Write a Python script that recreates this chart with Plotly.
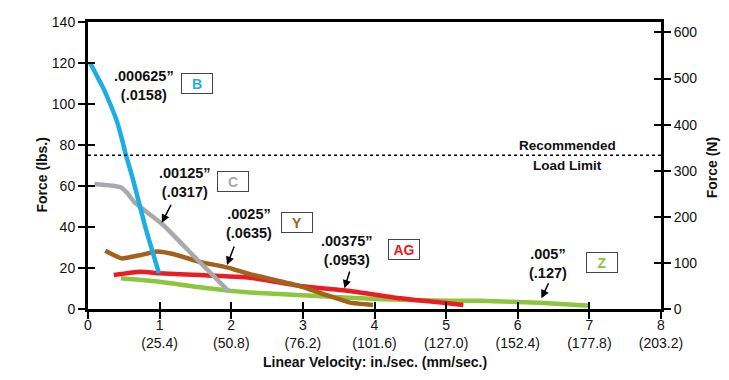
import plotly.graph_objects as go

# ---------------- data ----------------
b_x = [0.03, 0.12, 0.21, 0.31, 0.40, 0.48, 0.53, 0.63, 0.80, 0.99]
b_y = [120, 114, 108, 100, 92, 82, 75, 63, 40, 17.5]

c_x = [0.09, 0.45, 0.55, 0.65, 1.05, 1.5, 1.97]
c_y = [61, 59.5, 56.5, 52, 41, 25, 8.5]

y_x = [0.24, 0.47, 0.73, 0.96, 1.19, 1.56, 1.94, 2.26, 2.96, 3.33, 3.66, 3.98]
y_y = [28.4, 24.7, 26.3, 28, 26.8, 23, 20.3, 17, 11.2, 6.8, 3.1, 2]

ag_x = [0.36, 0.73, 1.0, 1.56, 2.26, 2.96, 3.66, 4.36, 5.24]
ag_y = [16.6, 18.2, 17.4, 16.6, 15.3, 11.2, 8.8, 5.2, 2]

z_x = [0.46, 1.0, 1.56, 1.98, 2.26, 3.19, 4.12, 5.06, 5.47, 6.31, 7.01]
z_y = [15, 13.3, 10.6, 8.9, 8.1, 6.3, 4.7, 4, 4, 3.1, 1.6]

x_ticks = [0, 1, 2, 3, 4, 5, 6, 7, 8]
x_ticklabels_in = ["0", "1", "2", "3", "4", "5", "6", "7", "8"]
x_ticklabels_mm = ["", "(25.4)", "(50.8)", "(76.2)", "(101.6)", "(127.0)", "(152.4)", "(177.8)", "(203.2)"]
lbs_ticks = [0, 20, 40, 60, 80, 100, 120, 140]
n_ticks = [0, 100, 200, 300, 400, 500, 600]
LBS_MAX = 140
N_PER_LB = 4.448
LOAD_LIMIT = 75

series = [
    # name, x, y, color, size label, label pos, box pos, arrow (tail, tip)
    ("Z", z_x, z_y, "#8CC63F", ".005”<br>(.127)", (6.42, 22), (7.17, 22.9), ((6.44, 13.3), (6.33, 5.2))),
    ("AG", ag_x, ag_y, "#EC1C24", ".00375”<br>(.0953)", (3.62, 28.3), (4.41, 28.8), ((3.66, 19), (3.58, 10.1))),
    ("Y", y_x, y_y, "#A3621C", ".0025”<br>(.0635)", (2.25, 41.7), (2.92, 42.2), ((2.05, 31.2), (1.94, 21.5))),
    ("C", c_x, c_y, "#A7A9AC", ".00125”<br>(.0317)", (1.35, 61.7), (2.03, 62.4), ((1.17, 51.6), (1.03, 42.1))),
    ("B", b_x, b_y, "#1AAEE5", ".000625”<br>(.0158)", (0.78, 108.8), (1.52, 110.2), None),
]

FONT = "Liberation Sans, Arial, sans-serif"

fig = go.Figure()
annotations = []
for name, xs, ys, col, lab, lpos, bpos, arr in series:
    fig.add_trace(go.Scatter(x=xs, y=ys, mode="lines", name=name,
                             line=dict(color=col, width=4.5, shape="spline", smoothing=0.4),
                             showlegend=False, hoverinfo="skip"))
    annotations.append(dict(x=lpos[0], y=lpos[1], xref="x", yref="y", text="<b>%s</b>" % lab,
                            showarrow=False, font=dict(family=FONT, size=14.5, color="#111"),
                            align="center"))
    annotations.append(dict(x=bpos[0], y=bpos[1], xref="x", yref="y", text="<b>%s</b>" % name,
                            showarrow=False, font=dict(family=FONT, size=14, color=col),
                            bordercolor="#444", borderwidth=1, bgcolor="white",
                            width=28, height=17, align="center", valign="middle"))
    if arr is not None:
        (tx, ty), (hx, hy) = arr
        annotations.append(dict(x=hx, y=hy, ax=tx, ay=ty, xref="x", yref="y", axref="x", ayref="y",
                                text="", showarrow=True, arrowhead=2, arrowsize=1.1,
                                arrowwidth=1.5, arrowcolor="black"))

annotations.append(dict(x=6.7, y=79.8, xref="x", yref="y", text="<b>Recommended</b>", showarrow=False,
                        font=dict(family=FONT, size=13.5, color="#111")))
annotations.append(dict(x=6.7, y=70.0, xref="x", yref="y", text="<b>Load Limit</b>", showarrow=False,
                        font=dict(family=FONT, size=13.5, color="#111")))

titlefont = dict(family=FONT, size=14, color="#111")
# axis titles
annotations.append(dict(x=0.5, y=0, yshift=-53, xref="paper", yref="paper", yanchor="middle",
                        text="<b>Linear Velocity: in./sec. (mm/sec.)</b>", showarrow=False,
                        font=titlefont))
annotations.append(dict(x=0.0, xshift=-46, y=0.465, xref="paper", yref="paper", xanchor="center",
                        yanchor="middle", textangle=-90, text="<b>Force (lbs.)</b>",
                        showarrow=False, font=titlefont))
annotations.append(dict(x=1.0, xshift=51, y=0.49, xref="paper", yref="paper", xanchor="center",
                        yanchor="middle", textangle=-90, text="<b>Force (N)</b>",
                        showarrow=False, font=titlefont))

# invisible traces to activate overlay axes
fig.add_trace(go.Scatter(x=[0], y=[0], yaxis="y2", mode="markers", marker=dict(opacity=0),
                         showlegend=False, hoverinfo="skip"))
fig.add_trace(go.Scatter(x=[0], y=[0], xaxis="x2", yaxis="y3", mode="markers",
                         marker=dict(opacity=0), showlegend=False, hoverinfo="skip"))
fig.add_trace(go.Scatter(x=[0], y=[0], xaxis="x2", yaxis="y4", mode="markers",
                         marker=dict(opacity=0), showlegend=False, hoverinfo="skip"))

fig.add_shape(type="line", xref="x", yref="y", x0=0, x1=8.05, y0=LOAD_LIMIT, y1=LOAD_LIMIT,
              line=dict(color="black", width=1.5, dash="dot"))

tickfont = dict(family=FONT, size=14, color="#111")

common = dict(showgrid=False, zeroline=False, automargin=False, tickwidth=2, tickcolor="black", ticklen=7)

fig.update_layout(
    width=721, height=372,
    margin=dict(l=80, r=68, t=14, b=71),
    plot_bgcolor="white", paper_bgcolor="white",
    annotations=annotations,
    xaxis=dict(range=[0, 8], tickvals=x_ticks, ticktext=x_ticklabels_in, ticks="outside",
               showline=True, linewidth=3, linecolor="black", mirror=True,
               tickfont=tickfont, ticklabelstandoff=-6, **common),
    xaxis2=dict(range=[0, 8], tickvals=x_ticks, ticktext=x_ticklabels_mm, ticks="inside",
                tickfont=tickfont, ticklabelstandoff=24,
                overlaying="x", anchor="y", side="bottom", **common),
    yaxis=dict(range=[0, LBS_MAX], tickvals=lbs_ticks, ticks="outside", showline=True, linewidth=3,
               linecolor="black", tickfont=tickfont, **common),
    yaxis3=dict(range=[0, LBS_MAX], tickvals=lbs_ticks, ticks="inside", showticklabels=False,
                overlaying="y", side="left", anchor="x", **common),
    yaxis2=dict(range=[0, LBS_MAX * N_PER_LB], tickvals=n_ticks, ticks="outside", showline=True,
                linewidth=3, linecolor="black", overlaying="y", side="right", anchor="x",
                tickfont=tickfont, **common),
    yaxis4=dict(range=[0, LBS_MAX * N_PER_LB], tickvals=n_ticks, ticks="inside",
                showticklabels=False, overlaying="y", side="right", anchor="x", **common),
)

fig.write_html("out.html")
